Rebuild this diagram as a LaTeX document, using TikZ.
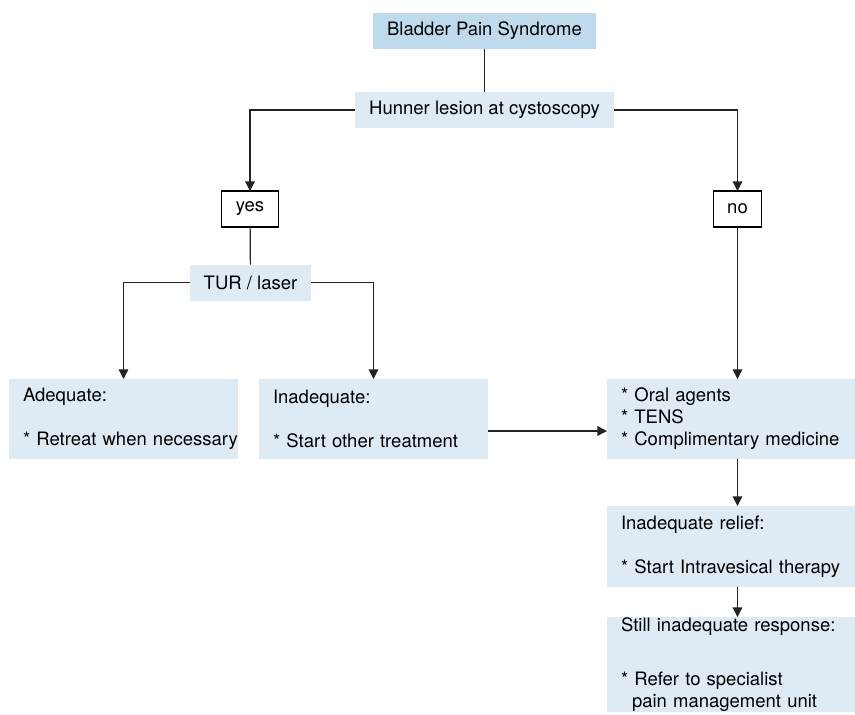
\documentclass[tikz,border=0pt]{standalone}
\usepackage{fontspec}
\setmainfont{TeX Gyre Heros}
\usetikzlibrary{arrows.meta}
\definecolor{topblue}{RGB}{192,218,237}
\definecolor{paleblue}{RGB}{222,235,245}
\definecolor{linegray}{RGB}{35,35,35}

\begin{document}
\begin{tikzpicture}
[
x=0.5pt, y=-0.5pt,
font=\fontsize{9.25}{11}\selectfont,
flatnode/.style={rectangle, inner xsep=7pt, inner ysep=0, minimum height=18pt, outer sep=0},
topnode/.style={flatnode, fill=topblue},
palenode/.style={flatnode, fill=paleblue},
answernode/.style={flatnode, draw=black, line width=0.6pt, fill=white},
infonode/.style={rectangle, fill=paleblue, anchor=north west, align=left, inner xsep=7pt, inner ysep=0, outer sep=0},
link/.style={draw=linegray, line width=0.6pt},
arr/.style={link, -{Triangle[length=4.8pt,width=4.8pt]}}
]
\useasboundingbox (0,0) rectangle (855,714);

\node[topnode]  (bps)    at (484.5,30.5) {Bladder Pain Syndrome};
\node[palenode] (hunner) at (484.5,110)  {Hunner lesion at cystoscopy};
\node[answernode] (yes)  at (250,209)    {yes};
\node[answernode] (no)   at (737.5,209)  {no};
\node[palenode] (tur)    at (250.5,282.5) {TUR / laser};

\node[infonode, text width=100.5pt, minimum height=40pt] (adeq) at (9,379)
  {Adequate:\\[11pt]\mbox{* Retreat when necessary}};
\node[infonode, text width=100.5pt, minimum height=40pt] (inad) at (259,379)
  {Inadequate:\\[11pt]{*} Start other treatment};
\node[infonode, text width=110pt, minimum height=40pt] (oral) at (607,379)
  {{*} Oral agents\\{*} TENS\\{*} Complimentary medicine};
\node[infonode, text width=110pt, minimum height=40.5pt] (relief) at (607,506)
  {Inadequate relief:\\[11pt]{*} Start Intravesical therapy};
\node[infonode, text width=110pt, minimum height=47.5pt] (still) at (607,617)
  {Still inadequate response:\\[16pt]{*} Refer to specialist\\\hspace*{5.5pt}pain management unit};

\draw[link]  (bps)         -- (hunner);
\draw[arr]   (hunner.west) -| (yes.north);
\draw[arr]   (hunner.east) -| (no.north);
\draw[link]  (yes)         -- (tur);
\draw[arr]   (tur.west)    -| (adeq.north);
\draw[arr]   (tur.east)    -| (inad.north);
\draw[arr]   (no.south)    -- (no.south |- oral.north);
\draw[arr]   ([yshift=-6pt]inad.east) -- ([yshift=-6pt]oral.west);
\draw[arr]   (oral.south -| no)   -- (relief.north -| no);
\draw[arr]   (relief.south -| no) -- (still.north -| no);
\end{tikzpicture}
\end{document}
